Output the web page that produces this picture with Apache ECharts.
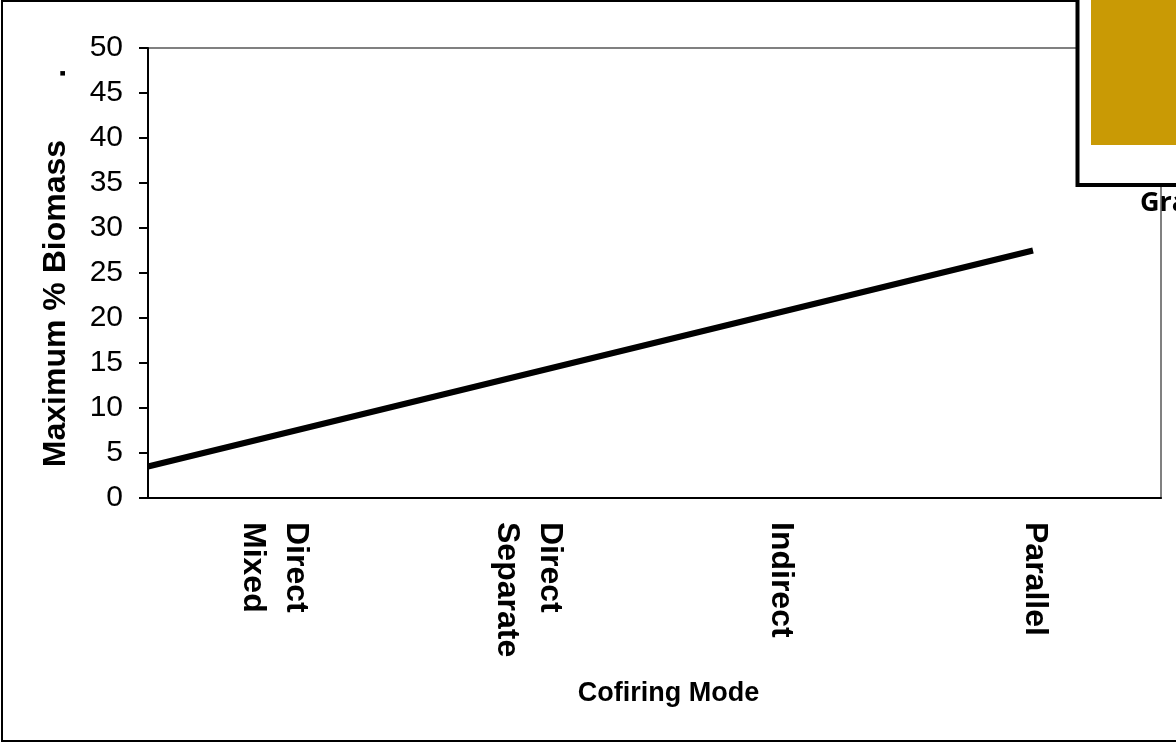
<!DOCTYPE html>
<html>
<head>
<meta charset="utf-8">
<script src="https://cdn.jsdelivr.net/npm/echarts@6/dist/echarts.min.js"></script>
<style>
html,body{margin:0;padding:0;background:#fff;}
#chart{width:1176px;height:743px;}
</style>
</head>
<body>
<div id="chart"></div>
<script>
const categories = ['Direct\nMixed', 'Direct\nSeparate', 'Indirect', 'Parallel'];
const biomassMax = [3.5, 11.5, 19.5, 27.5];
const pointIndex = [0, 1, 2, 3];
const yMin = 0, yMax = 50, yStep = 5;

const chart = echarts.init(document.getElementById('chart'));
const font = 'Liberation Sans, Arial, sans-serif';
const option = {
  animation: false,
  backgroundColor: '#fff',
  grid: { left: 148, right: 15, top: 48, bottom: 245, show: true, borderColor: '#808080', borderWidth: 2, backgroundColor: 'transparent' },
  xAxis: [{
    type: 'category',
    data: categories,
    boundaryGap: true,
    axisLine: { lineStyle: { color: '#000', width: 2 } },
    axisTick: { length: 10, lineStyle: { color: '#000', width: 2 } },
    axisLabel: { rotate: -90, margin: 24, fontFamily: font, fontWeight: 'bold', fontSize: 32, color: '#000', lineHeight: 43 },
    name: 'Cofiring Mode',
    nameLocation: 'middle',
    nameGap: 182,
    nameTextStyle: { fontFamily: font, fontWeight: 'bold', fontSize: 27, color: '#000', padding: [0, 0, 0, 28] }
  }, {
    type: 'value', min: 0, max: 3 * 1013 / 885, show: false
  }],
  yAxis: {
    type: 'value', min: yMin, max: yMax, interval: yStep,
    axisLine: { show: true, lineStyle: { color: '#000', width: 2 } },
    axisTick: { show: true, length: 9, lineStyle: { color: '#000', width: 2 } },
    splitLine: { show: false },
    axisLabel: { margin: 25, fontFamily: font, fontSize: 30, color: '#000' },
    name: 'Maximum % Biomass       .',
    nameLocation: 'middle',
    nameGap: 76,
    nameTextStyle: { fontFamily: font, fontWeight: 'bold', fontSize: 32, color: '#000', padding: [0, 0, 0, 10] }
  },
  series: [{
    type: 'line',
    xAxisIndex: 1,
    data: pointIndex.map((x, i) => [x, biomassMax[i]]),
    symbol: 'none',
    lineStyle: { color: '#000', width: 6 },
    z: 3
  }],
  graphic: [
    { type: 'rect', shape: { x: 2, y: 1, width: 1200, height: 740 }, style: { fill: 'none', stroke: '#000', lineWidth: 2 }, z: 10, silent: true },
    { type: 'rect', shape: { x: 1077.5, y: -10, width: 120, height: 195 }, style: { fill: '#fff', stroke: '#000', lineWidth: 4 }, z: 20, silent: true },
    { type: 'rect', shape: { x: 1091, y: 0, width: 90, height: 145 }, style: { fill: '#C99A05' }, z: 21, silent: true },
    { type: 'text', left: 1140, top: 190, style: { text: 'Gra', font: 'bold 27px "Open Sans", sans-serif', fill: '#000' }, z: 21, silent: true }
  ]
};
chart.setOption(option);
</script>
</body>
</html>
